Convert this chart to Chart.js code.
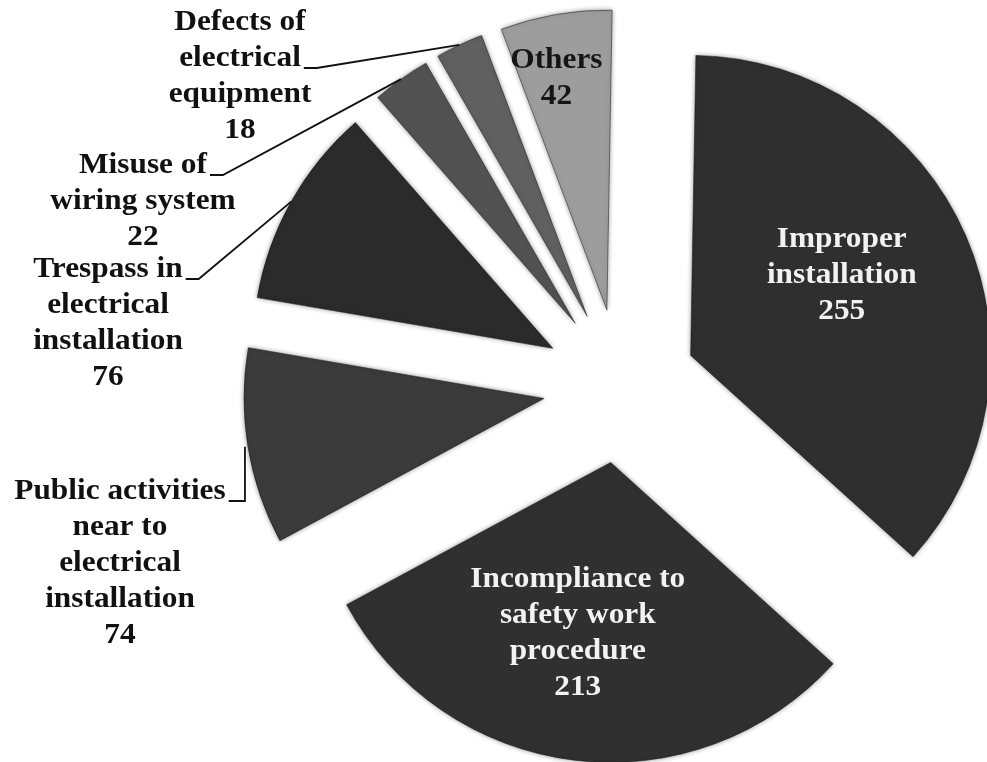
<!DOCTYPE html>
<html>
<head>
<meta charset="utf-8">
<script src="https://cdn.jsdelivr.net/npm/chart.js@4"></script>
<style>
  body { margin: 0; background: #fff; }
  canvas { display: block; }
</style>
</head>
<body>
<canvas id="accidentChart" width="987" height="762"></canvas>
<script>
// Causes of electrical accidents (multi-line category names)
const categories = [
  ['Improper', 'installation'],
  ['Incompliance to', 'safety work', 'procedure'],
  ['Public activities', 'near to', 'electrical', 'installation'],
  ['Trespass in', 'electrical', 'installation'],
  ['Misuse of', 'wiring system'],
  ['Defects of', 'electrical', 'equipment'],
  ['Others']
];
const cases = [255, 213, 74, 76, 22, 18, 42];
const sliceColors = ['#2f2f2f', '#303030', '#3b3b3b', '#2b2b2b', '#525252', '#606060', '#9d9d9d'];

// how far every slice is pulled out from the centre
const EXPLODE = 77;
const FONT = 'bold 29px "Liberation Serif", "Times New Roman", serif';
const LINE_H = 36;

// label layout: inside labels sit along the slice's mid angle, outside ones get a leader line
const insideLabels = {
  0: { r: 0.57, shift: -4.5, color: '#f2f2f2' },
  1: { r: 0.58, shift: 4, color: '#f2f2f2' },
  6: { r: 0.79, shift: -2.5, color: '#151515' }
};
const outsideLabels = {
  5: { x: 240, y: 23, tickLine: 1 },
  4: { x: 143, y: 166, tickLine: 0 },
  3: { x: 108, y: 270, tickLine: 0 },
  2: { x: 120, y: 492, tickLine: 0, vertical: true }
};

function textW(ctx, t) {
  return ctx.measureText(t).width * 1.08;
}
function drawText(ctx, t, x, y) {
  ctx.save();
  ctx.translate(x, y);
  ctx.scale(1.08, 1);
  ctx.fillText(t, 0, 0);
  ctx.restore();
}

// draw each slice shifted out along its mid angle
const explodePlugin = {
  id: 'explode',
  beforeDatasetDraw(chart, args) {
    const ctx = chart.ctx;
    args.meta.data.forEach((arc) => {
      const mid = (arc.startAngle + arc.endAngle) / 2;
      ctx.save();
      ctx.translate(Math.cos(mid) * EXPLODE, Math.sin(mid) * EXPLODE);
      ctx.shadowColor = 'rgba(0,0,0,0.4)';
      ctx.shadowBlur = 5;
      arc.draw(ctx);
      ctx.restore();
    });
    return false;
  }
};

const labelPlugin = {
  id: 'sliceLabels',
  afterDatasetsDraw(chart) {
    const ctx = chart.ctx;
    const arcs = chart.getDatasetMeta(0).data;
    ctx.save();
    ctx.font = FONT;
    ctx.textAlign = 'center';
    ctx.textBaseline = 'middle';
    arcs.forEach((arc, i) => {
      const lines = categories[i].concat([String(cases[i])]);
      const mid = (arc.startAngle + arc.endAngle) / 2;
      const ax = arc.x + Math.cos(mid) * EXPLODE;
      const ay = arc.y + Math.sin(mid) * EXPLODE;
      if (insideLabels[i]) {
        const L = insideLabels[i];
        const a = mid + L.shift * Math.PI / 180;
        const cx = ax + Math.cos(a) * arc.outerRadius * L.r;
        const cy = ay + Math.sin(a) * arc.outerRadius * L.r;
        ctx.fillStyle = L.color;
        const top = cy - (lines.length - 1) * LINE_H / 2;
        lines.forEach((t, k) => drawText(ctx, t, cx, top + k * LINE_H));
      } else if (outsideLabels[i]) {
        const L = outsideLabels[i];
        ctx.fillStyle = '#111';
        lines.forEach((t, k) => drawText(ctx, t, L.x, L.y + k * LINE_H));
        // leader line from the end of one text line to the slice rim
        const rx = ax + Math.cos(mid) * arc.outerRadius;
        const ry = ay + Math.sin(mid) * arc.outerRadius;
        const ty = L.y + L.tickLine * LINE_H + 9;
        const tx = L.x + textW(ctx, lines[L.tickLine]) / 2 + 3;
        ctx.strokeStyle = '#111';
        ctx.lineWidth = 1.8;
        ctx.beginPath();
        ctx.moveTo(tx, ty);
        if (L.vertical) {
          ctx.lineTo(rx - 3, ty);
          ctx.lineTo(rx - 3, ry);
        } else {
          ctx.lineTo(tx + 13, ty);
          ctx.lineTo(rx, ry);
        }
        ctx.stroke();
      }
    });
    ctx.restore();
  }
};

new Chart(document.getElementById('accidentChart'), {
  type: 'pie',
  data: {
    labels: categories,
    datasets: [{
      data: cases,
      backgroundColor: sliceColors,
      borderColor: 'rgba(20,20,20,0.5)',
      borderWidth: 1,
      clip: false
    }]
  },
  options: {
    responsive: false,
    animation: false,
    radius: 300,
    rotation: 1,
    layout: { padding: { left: 253, right: 0, top: 10, bottom: 0 } },
    plugins: {
      legend: { display: false },
      tooltip: { enabled: false }
    }
  },
  plugins: [explodePlugin, labelPlugin]
});
</script>
</body>
</html>
